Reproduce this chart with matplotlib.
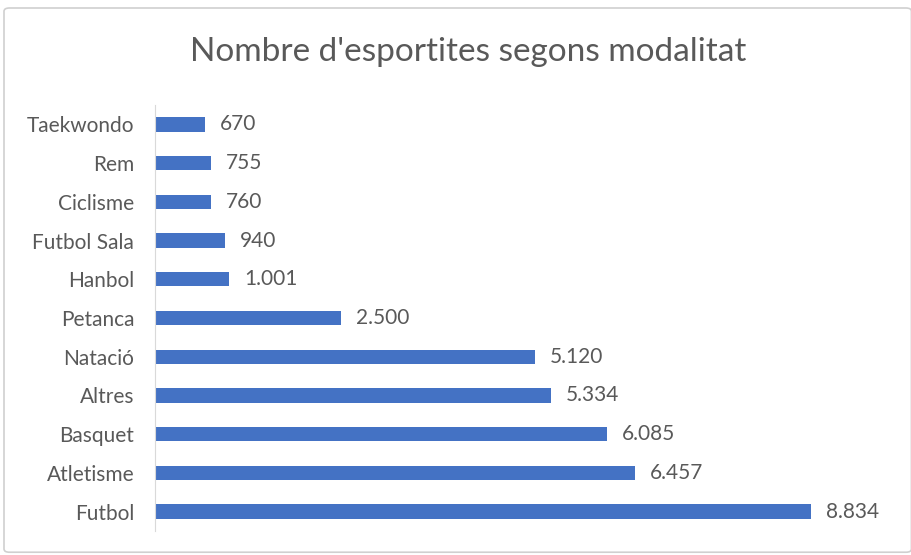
import matplotlib.pyplot as plt
from matplotlib.patches import FancyBboxPatch

# dades
modalitats = ['Futbol', 'Atletisme', 'Basquet', 'Altres', 'Natació', 'Petanca',
              'Hanbol', 'Futbol Sala', 'Ciclisme', 'Rem', 'Taekwondo']
esportistes = [8834, 6457, 6085, 5334, 5120, 2500, 1001, 940, 760, 755, 670]
etiquetes = ['8.834', '6.457', '6.085', '5.334', '5.120', '2.500',
             '1.001', '940', '760', '755', '670']

plt.rcParams['font.family'] = ['Lato', 'DejaVu Sans']
gris = '#595959'

fig = plt.figure(figsize=(9.12, 5.55), dpi=100)
# marc del grafic (darrere dels eixos)
marc = FancyBboxPatch((4 / 912, 0.005), 0.995, 1 - 8 / 555 - 0.005,
                      boxstyle='round,pad=0,rounding_size=0.006',
                      transform=fig.transFigure, facecolor='white',
                      edgecolor='#d0d0d0', linewidth=1.2, zorder=-5)
fig.patches.append(marc)

ax = fig.add_axes([155 / 912, 1 - 531 / 555, 743 / 912, 426 / 555])
ax.barh(range(len(modalitats)), esportistes, height=0.37, color='#4472C4')
for i, (v, t) in enumerate(zip(esportistes, etiquetes)):
    ax.text(v + 200, i, t, va='center', ha='left', fontsize=15, color=gris)

ax.set_xlim(0, 10000)
ax.set_ylim(-0.5, len(modalitats) - 0.5)
ax.set_yticks(range(len(modalitats)))
ax.set_yticklabels(modalitats, fontsize=15, color=gris)
ax.tick_params(axis='y', length=0, pad=15)
ax.set_xticks([])
for s in ['top', 'right', 'bottom']:
    ax.spines[s].set_visible(False)
ax.spines['left'].set_color('#d9d9d9')
ax.patch.set_alpha(0)

fig.text(468 / 912, 1 - 52 / 555, "Nombre d'esportites segons modalitat",
         ha='center', va='center', fontsize=24, color=gris)

fig.savefig('out.png', dpi=100)
